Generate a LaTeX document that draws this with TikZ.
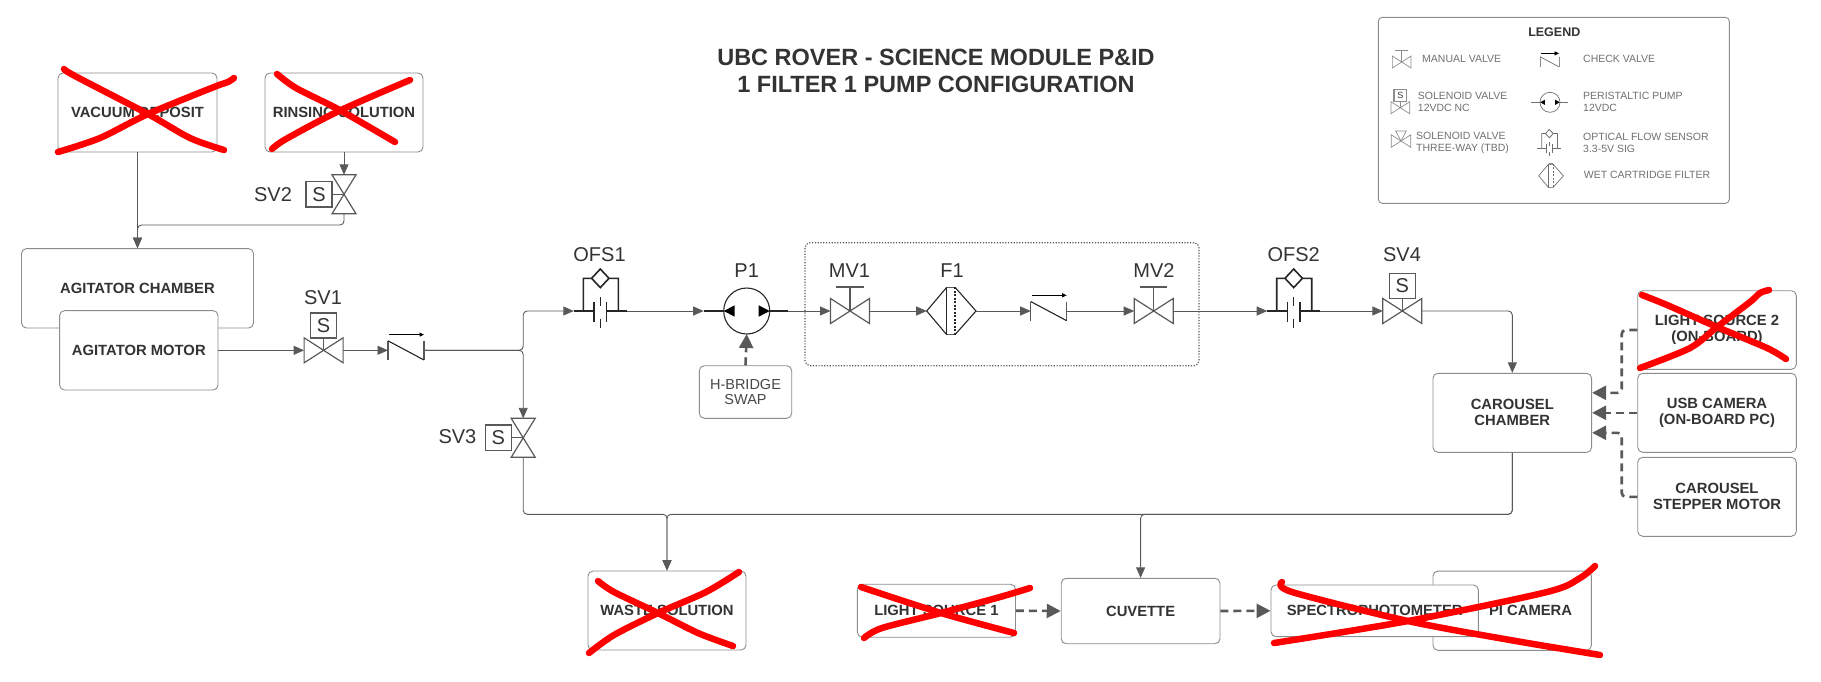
\documentclass[tikz,border=0pt]{standalone}
\usepackage{fontspec}
\setmainfont{Liberation Sans}
\usetikzlibrary{arrows.meta}
\definecolor{pipec}{HTML}{595959}
\definecolor{edgec}{HTML}{8C8C8C}
\definecolor{txtc}{HTML}{333333}
\definecolor{legc}{HTML}{707070}
\definecolor{xred}{HTML}{FF0000}
\newcommand{\fs}[2]{\fontsize{#1}{#2}\selectfont}
\tikzset{
  x=1pt,y=-1pt,
  boxb/.style={draw=edgec,line width=.9,fill=white,rounded corners=5,inner sep=0,align=center,text=txtc,font=\fs{14.8}{16}\bfseries},
  tag/.style={inner sep=0,text=txtc,font=\fs{20}{22}},
  legt/.style={inner sep=0,anchor=west,align=left,text=legc,font=\fs{10.5}{12}},
  pipe/.style={draw=pipec,line width=.9,rounded corners=4,-{Triangle[length=10.5,width=9]}},
  plainpipe/.style={draw=pipec,line width=.9,rounded corners=4},
  sig/.style={draw=pipec,line width=2.6,rounded corners=4,dash pattern=on 8 off 5,-{Triangle[length=14,width=14]}},
  redx/.style={draw=xred,line width=6.5,line cap=round,line join=round},
  sym/.style={draw=pipec,line width=1.2},
  symk/.style={draw=black!85,line width=1.1},
  symh/.style={draw=black!85,line width=1.6},
  valvebow/.pic={\draw[sym] (-19.5,-12.5)--(19.5,12.5)--(19.5,-12.5)--(-19.5,12.5)--cycle;
    \coordinate (-in) at (-19.5,0); \coordinate (-out) at (19.5,0);},
  solv/.pic={\draw[sym] (-19.5,-12.5)--(19.5,12.5)--(19.5,-12.5)--(-19.5,12.5)--cycle;
    \draw[sym] (0,0)--(0,-12.5);
    \draw[sym,line width=1.4] (-13,-37.5) rectangle (13,-12.5);
    \node[inner sep=0,text=txtc,font=\fs{#1}{#1}] (-s) at (0,-25) {S};
    \coordinate (-in) at (-19.5,0); \coordinate (-out) at (19.5,0);},
  solvv/.pic={\draw[sym] (-12,-19.5)--(12,19.5)--(-12,19.5)--(12,-19.5)--cycle;
    \draw[sym] (0,0)--(-12,0);
    \draw[sym,line width=1.4] (-38,-12.7) rectangle (-12,12.7);
    \node[inner sep=0,text=txtc,font=\fs{20}{20}] (-s) at (-25,0) {S};
    \coordinate (-in) at (0,-19.5); \coordinate (-out) at (0,19.5);},
  manv/.pic={\draw[sym] (-19.5,-12.5)--(19.5,12.5)--(19.5,-12.5)--(-19.5,12.5)--cycle;
    \draw[sym] (0,0)--(0,-24);
    \draw[sym,line width=1.5] (-13.7,-24)--(13.7,-24);
    \coordinate (-in) at (-19.5,0); \coordinate (-out) at (19.5,0);},
  chkv/.pic={\draw[sym] (-18,-9.5)--(-18,9.7) (18,-9.5)--(18,9.7);
    \draw[symk] (-18,-9.5)--(18,9.7);
    \draw[black,line width=.8,-{Triangle[length=4.5,width=4]}] (-17,-15.7)--(18,-15.7);
    \coordinate (-in) at (-18,0); \coordinate (-out) at (18,0);},
  pumpp/.pic={\draw[symk] (0,0) circle[radius=23];
    \draw[symh] (-43,0)--(-23,0) (23,0)--(41.5,0);
    \fill[black] (-23,0)--(-12,-5.7)--(-12,5.7)--cycle (23,0)--(12,-5.7)--(12,5.7)--cycle;
    \coordinate (-in) at (-43,0); \coordinate (-out) at (41.5,0); \coordinate (-bot) at (0,23);},
  ofsp/.pic={\draw[symh] (-26.5,0)--(-6.3,0) (6.3,0)--(26.5,0) (-6.3,-9.5)--(-6.3,10.5) (6.3,-9.5)--(6.3,10.5);
    \draw[symk] (0,-14)--(0,-5) (0,7.7)--(0,16.7);
    \draw[symh] (-17,0)--(-17,-32.7)--(-8.7,-32.7)--(0,-42)--(8.7,-32.7)--(18,-32.7)--(18,0) (-8.7,-32.7)--(0,-23.4)--(8.7,-32.7);
    \coordinate (-in) at (-26.5,0); \coordinate (-out) at (26.5,0);},
  filt/.pic={\draw[symk] (-4.6,-23.7)--(-24.6,0)--(-4.6,23.7) (3.7,-23.7)--(24.7,0)--(3.7,23.7);
    \draw[sym,line width=1.4] (-4.6,-23.7)--(3.7,-23.7) (-4.6,23.7)--(3.7,23.7);
    \draw[symk,line width=1.3] (-4.6,-23.7)--(-4.6,23.7);
    \draw[symk,dash pattern=on 2 off 1.5] (3.7,-23.7)--(3.7,23.7);
    \coordinate (-in) at (-24.6,0); \coordinate (-out) at (24.7,0);},
}
\begin{document}
\begin{tikzpicture}
\useasboundingbox (0,0) rectangle (1821,681);
% title
\node[inner sep=0,align=center,text=txtc,font=\fs{23.5}{27}\bfseries] (title) at (936,71) {UBC ROVER - SCIENCE MODULE P\&ID\\1 FILTER 1 PUMP CONFIGURATION};
% boxes
\node[boxb,minimum width=159,minimum height=79] (vac) at (137.5,112.5) {VACUUM DEPOSIT};
\node[boxb,minimum width=158,minimum height=79] (rin) at (344,112.5) {RINSING SOLUTION};
\node[boxb,minimum width=232,minimum height=79.4] (cham) at (137.5,288.3) {AGITATOR CHAMBER};
\node[boxb,minimum width=158.4,minimum height=79.4] (motor) at (138.8,350.3) {AGITATOR MOTOR};
\node[boxb,minimum width=158.7,minimum height=79] (car) at (1512.3,412.8) {CAROUSEL\\CHAMBER};
\node[boxb,minimum width=158.6,minimum height=78.6] (ls2) at (1717,330) {LIGHT SOURCE 2\\(ON-BOARD)};
\node[boxb,minimum width=158.6,minimum height=79] (usb) at (1717,412.8) {USB CAMERA\\(ON-BOARD PC)};
\node[boxb,minimum width=158.6,minimum height=79] (step) at (1717,496.8) {CAROUSEL\\STEPPER MOTOR};
\node[boxb,minimum width=158,minimum height=79] (waste) at (667,610.5) {WASTE SOLUTION};
\node[boxb,minimum width=158.2,minimum height=53] (ls1) at (936.4,610.7) {LIGHT SOURCE 1};
\node[boxb,minimum width=158.8,minimum height=65.4] (cuv) at (1140.6,611) {CUVETTE};
\node[boxb,minimum width=158.4,minimum height=79.3] (pic) at (1512.2,610.7) {};
\node[boxb,minimum width=207.4,minimum height=51.7] (spec) at (1374.7,610.8) {SPECTROPHOTOMETER};
\node[inner sep=0,text=txtc,font=\fs{14.8}{16}\bfseries] (pict) at (1530.6,610.7) {PI CAMERA};
\node[boxb,minimum width=92.4,minimum height=52.6,font=\fs{14.5}{15.5},text=pipec!80!black] (hb) at (745.5,392) {H-BRIDGE\\SWAP};
\node[draw=pipec,line width=1.2,dash pattern=on 1.2 off 1.6,rounded corners=5,minimum width=394,minimum height=123,inner sep=0] (grp) at (1002,304.2) {};
% equipment
\pic (sv2) at (344,194.3) {solvv};
\pic (sv1) at (323.6,350.3) {solv=20};
\pic (chk1) at (406,350.3) {chkv};
\pic (sv3) at (523.2,437.8) {solvv};
\pic (ofs1) at (600.3,311) {ofsp};
\pic (p1) at (746.7,311) {pumpp};
\pic (mv1) at (850,311) {manv};
\pic (f1) at (951.3,311) {filt};
\pic (chk2) at (1048.7,311) {chkv};
\pic (mv2) at (1153.7,311) {manv};
\pic (ofs2) at (1293.7,311) {ofsp};
\pic (sv4) at (1402.3,311) {solv=20};
% labels
\node[tag] (lsv2) at (273,195) {SV2};
\node[tag] (lsv1) at (323,298) {SV1};
\node[tag] (lsv3) at (457.4,437) {SV3};
\node[tag] (lofs1) at (599.5,255) {OFS1};
\node[tag] (lp1) at (746.7,270.7) {P1};
\node[tag] (lmv1) at (849.5,270.7) {MV1};
\node[tag] (lf1) at (952,270.7) {F1};
\node[tag] (lmv2) at (1154,270.7) {MV2};
\node[tag] (lofs2) at (1293.7,255) {OFS2};
\node[tag] (lsv4) at (1402,255) {SV4};
% junctions
\coordinate (j2) at (137.5,225);
\coordinate (j1) at (523.2,350.3);
\coordinate (jw) at (667,514.3);
\coordinate (jc) at (1140.6,514.3);
\coordinate (kls2) at (1621.7,392.8);
\coordinate (kstep) at (1621.7,432.8);
% pipes
\draw[pipe] (vac.south) -- (cham.north);
\draw[pipe] (rin.south) -- (sv2-in);
\draw[pipe] (sv2-out) |- (j2) -- (cham.north);
\draw[pipe] (motor.east) -- (sv1-in);
\draw[pipe] (sv1-out) -- (chk1-in);
\draw[pipe] (chk1-out) -- (j1) |- (ofs1-in);
\draw[pipe] (chk1-out) -- (j1) -- (sv3-in);
\draw[pipe] (ofs1-out) -- (p1-in);
\draw[pipe] (p1-out) -- (mv1-in);
\draw[pipe] (mv1-out) -- (f1-in);
\draw[pipe] (f1-out) -- (chk2-in);
\draw[pipe] (chk2-out) -- (mv2-in);
\draw[pipe] (mv2-out) -- (ofs2-in);
\draw[pipe] (ofs2-out) -- (sv4-in);
\draw[pipe] (sv4-out) -| (car.north);
\draw[pipe] (sv3-out) |- (jw) -- (waste.north);
\draw[pipe] (car.south) |- (jw) -- (waste.north);
\draw[pipe] (car.south) |- (jc) -- (cuv.north);
% signals
\draw[sig] (hb.north) -- (p1-bot);
\draw[sig] (ls2.west) -| (kls2) -- (car.east |- kls2);
\draw[sig] (usb.west) -- (car.east);
\draw[sig] (step.west) -| (kstep) -- (car.east |- kstep);
\draw[sig] (ls1.east) -- (cuv.west);
\draw[sig] (cuv.east) -- (spec.west);
% legend
\node[draw=edgec,line width=.9,rounded corners=4,minimum width=351,minimum height=186,inner sep=0] (leg) at (1553.8,110.3) {};
\node[inner sep=0,text=txtc,font=\fs{12.5}{13}\bfseries] (legtitle) at (1554.3,31.7) {LEGEND};
\node[legt] (t1) at (1422,58.7) {MANUAL VALVE};
\node[legt] (t2) at (1417.7,101.7) {SOLENOID VALVE\\12VDC NC};
\node[legt] (t3) at (1416,143) {SOLENOID VALVE\\THREE-WAY (TBD)};
\node[legt] (t4) at (1583,59) {CHECK VALVE};
\node[legt] (t5) at (1583,101.7) {PERISTALTIC PUMP\\12VDC};
\node[legt] (t6) at (1583,143) {OPTICAL FLOW SENSOR\\3.3-5V SIG};
\node[legt] (t7) at (1583.7,175.3) {WET CARTRIDGE FILTER};
\begin{scope}[sym/.style={draw=legc!80,line width=.7},symk/.style={draw=legc,line width=.7},symh/.style={draw=legc,line width=.8}]
\pic[scale=.48] (l1) at (1401.7,62) {manv};
\pic[scale=.48] (l2) at (1400.3,107.7) {solv=9};
\pic[scale=.5] (l3) at (1401,141) {valvebow};
\draw[sym] (1395.7,131)--(1406.3,131)--(1401,141)--cycle;
\pic[scale=.53] (l4) at (1549.5,61.7) {chkv};
\pic[scale=.435] (l5) at (1550,102.3) {pumpp};
\pic[scale=.45] (l6) at (1549.3,148.3) {ofsp};
\pic[scale=.5] (l7) at (1551,175.8) {filt};
\end{scope}
% crosses
\draw[redx] plot[smooth] coordinates {(64,69) (75,76) (148,114) (190,138) (224,150)};
\draw[redx] plot[smooth] coordinates {(58,152) (100,138) (148,114) (214,87) (228,82) (234,78)};
\draw[redx] plot[smooth] coordinates {(277,74) (296,88) (336,108) (371,128) (395,142)};
\draw[redx] plot[smooth] coordinates {(272,149) (286,139) (339,111) (410,80)};
\draw[redx] plot[smooth] coordinates {(1642,295) (1667,305) (1717,327) (1767,348) (1786,359)};
\draw[redx] plot[smooth] coordinates {(1640,368) (1690,348) (1717,327) (1750,302) (1760,293) (1769,290)};
\draw[redx] plot[smooth] coordinates {(598,581) (614,592) (658,613) (698,633) (733,646)};
\draw[redx] plot[smooth] coordinates {(589,653) (614,635) (658,613) (706,592) (739,572)};
\draw[redx] plot[smooth] coordinates {(861,587) (941,613) (1014,633)};
\draw[redx] plot[smooth] coordinates {(864,638) (882,628) (941,613) (1000,597) (1030,588)};
\draw[redx] plot[smooth] coordinates {(1282,582) (1292,592) (1408,621) (1510,640) (1600,655)};
\draw[redx] plot[smooth] coordinates {(1274,643) (1408,621) (1547,592) (1580,578) (1595,566)};
\end{tikzpicture}
\end{document}
